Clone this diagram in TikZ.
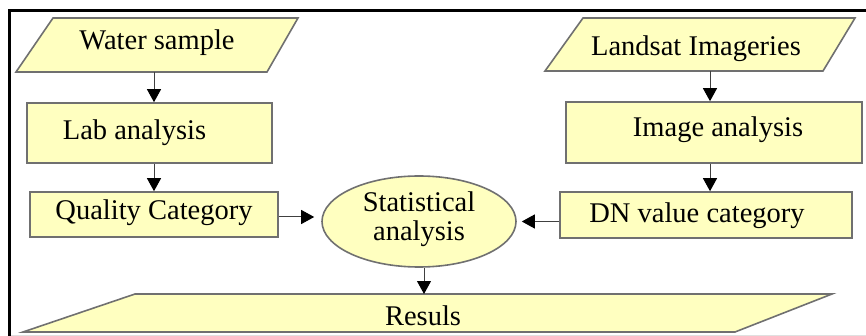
\documentclass[tikz,border=0pt]{standalone}
\usepackage{fontspec}
\setmainfont{Liberation Serif}
\usetikzlibrary{arrows.meta,shapes.geometric}
\definecolor{boxfill}{RGB}{255,255,192}
\definecolor{boxline}{RGB}{112,112,112}
\definecolor{linkline}{RGB}{64,64,64}
\begin{document}
\begin{tikzpicture}[x=1pt,y=-1pt,
  fig/.style={draw=boxline, fill=boxfill, line width=1.6pt, line join=miter},
  box/.style={fig, rectangle, inner sep=0pt},
  lbl/.style={anchor=base, inner sep=0pt, font=\fontsize{28.5}{30}\selectfont},
  link/.style={draw=linkline, line width=1pt, -{Triangle[length=13pt,width=14pt,color=black]}}]
\useasboundingbox (0,0) rectangle (866,336);

% outer frame
\draw[line width=3pt] (866,10.5) -- (9.5,10.5) -- (9.5,336);
\draw[black!12, line width=1pt] (11,335) -- (866,335);

% input parallelograms
\path[fig] (53,18) -- (298,18) -- (267,72) -- (16,72) -- cycle;
\node[lbl] (ws) at (157,50) {Water sample};
\coordinate (wsS) at (154,72);

\path[fig] (583,18) -- (855,18) -- (823,71) -- (545,71) -- cycle;
\node[lbl] (ls) at (696,55.5) {Landsat Imageries};
\coordinate (lsS) at (710,71);

% processing boxes
\node[box, minimum width=245pt, minimum height=60pt] (lab) at (149.5,133) {};
\node[lbl] (labT) at (134.5,140) {Lab analysis};

\node[box, minimum width=248pt, minimum height=45pt] (qc) at (154,214.5) {};
\node[lbl] (qcT) at (154,220) {Quality Category};

\node[box, minimum width=296pt, minimum height=61pt] (img) at (714,132.5) {};
\node[lbl] (imgT) at (718,136.5) {Image analysis};

\node[box, minimum width=292pt, minimum height=46pt] (dn) at (706,215) {};
\node[lbl] (dnT) at (697,222.5) {DN value category};

% statistics ellipse
\node[fig, ellipse, inner sep=0pt, minimum width=194pt, minimum height=91pt] (stat) at (419,221.5) {};
\node[lbl] (statA) at (419,212) {Statistical};
\node[lbl] (statB) at (419,241) {analysis};

% output parallelogram
\path[fig] (135,294) -- (832,294) -- (735,332) -- (23,332) -- cycle;
\node[lbl] (res) at (423,325) {Resuls};
\coordinate (resN) at (424,294);

% connectors
\draw[link] (wsS) -- (wsS |- lab.north);
\draw[link] (qc.north |- lab.south) -- (qc.north);
\draw[link, shorten >=7pt] (qc.east |- 0,217) -- (stat.west |- 0,217);
\draw[link] (lsS) -- (lsS |- img.north);
\draw[link] (lsS |- img.south) -- (lsS |- dn.north);
\draw[link, shorten >=5pt] (dn.west |- stat.east) -- (stat.east);
\draw[link] (stat.south -| resN) -- (resN);
\end{tikzpicture}
\end{document}
